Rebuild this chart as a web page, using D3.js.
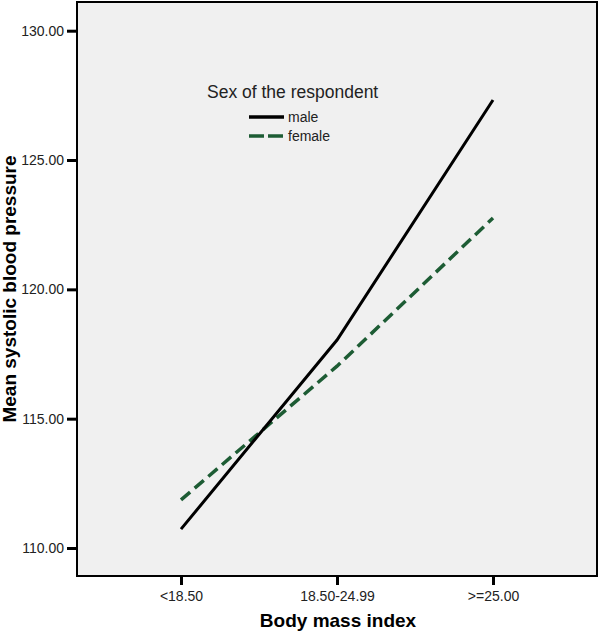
<!DOCTYPE html>
<html><head><meta charset="utf-8">
<script src="https://cdn.jsdelivr.net/npm/d3@7"></script>
<style>body{margin:0;background:#fff}svg{display:block}</style>
</head><body>
<script>
const categories = ["<18.50", "18.50-24.99", ">=25.00"];
const maleValues = [110.73, 118.04, 127.32];
const femaleValues = [111.86, 117.03, 122.76];
const yTicks = [110, 115, 120, 125, 130];
const seriesNames = ["male", "female"];

const W = 600, H = 633;
const frame = {left: 77, top: 2, right: 597, bottom: 576};
const svg = d3.select("body").append("svg").attr("width", W).attr("height", H);
const font = "Arial, 'Liberation Sans', sans-serif";

svg.append("rect").attr("x", frame.left).attr("y", frame.top)
  .attr("width", frame.right - frame.left).attr("height", frame.bottom - frame.top)
  .attr("fill", "#f0f0f0").attr("stroke", "#000").attr("stroke-width", 2);

const y = d3.scaleLinear().domain([110, 130]).range([548, 30.7]);
const x = d3.scalePoint().domain(categories).range([181, 493]);

const yAxis = svg.append("g").attr("transform", `translate(${frame.left - 1},0)`)
  .call(d3.axisLeft(y).tickValues(yTicks).tickFormat(d3.format(".2f")).tickSize(9).tickPadding(3));
yAxis.select(".domain").remove();
yAxis.selectAll("line").attr("stroke", "#000").attr("stroke-width", 3);
yAxis.selectAll("text").attr("font-family", font).attr("font-size", 14).attr("fill", "#222");

const xAxis = svg.append("g").attr("transform", `translate(0,${frame.bottom + 1})`)
  .call(d3.axisBottom(x).tickSize(8).tickPadding(6));
xAxis.select(".domain").remove();
xAxis.selectAll("line").attr("stroke", "#000").attr("stroke-width", 3);
xAxis.selectAll("text").attr("font-family", font).attr("font-size", 14).attr("fill", "#222");

const line = d3.line().x((d, i) => x(categories[i])).y(d => y(d));
svg.append("path").datum(femaleValues).attr("d", line).attr("fill", "none")
  .attr("stroke", "#1d5c34").attr("stroke-width", 3.5).attr("stroke-dasharray", "12,6");
svg.append("path").datum(maleValues).attr("d", line).attr("fill", "none")
  .attr("stroke", "#000").attr("stroke-width", 3);

// legend
svg.append("text").attr("x", 207).attr("y", 98).attr("font-family", font).attr("font-size", 17.5)
  .attr("fill", "#222").text("Sex of the respondent");
const leg = [{name: seriesNames[0], color: "#000", dash: null, w: 3.5}, {name: seriesNames[1], color: "#1d5c34", dash: "15,4", w: 3.5}];
leg.forEach((d, i) => {
  const ly = 117 + i * 19;
  svg.append("line").attr("x1", 249).attr("x2", 284).attr("y1", ly).attr("y2", ly)
    .attr("stroke", d.color).attr("stroke-width", d.w).attr("stroke-dasharray", d.dash);
  svg.append("text").attr("x", 288).attr("y", ly + 5).attr("font-family", font).attr("font-size", 14)
    .attr("fill", "#222").text(d.name);
});

svg.append("text").attr("x", 338).attr("y", 627).attr("text-anchor", "middle")
  .attr("font-family", font).attr("font-size", 19).attr("font-weight", "bold").text("Body mass index");
svg.append("text").attr("transform", "translate(16,289) rotate(-90)").attr("text-anchor", "middle")
  .attr("font-family", font).attr("font-size", 19).attr("font-weight", "bold").text("Mean systolic blood pressure");
</script>
</body></html>
